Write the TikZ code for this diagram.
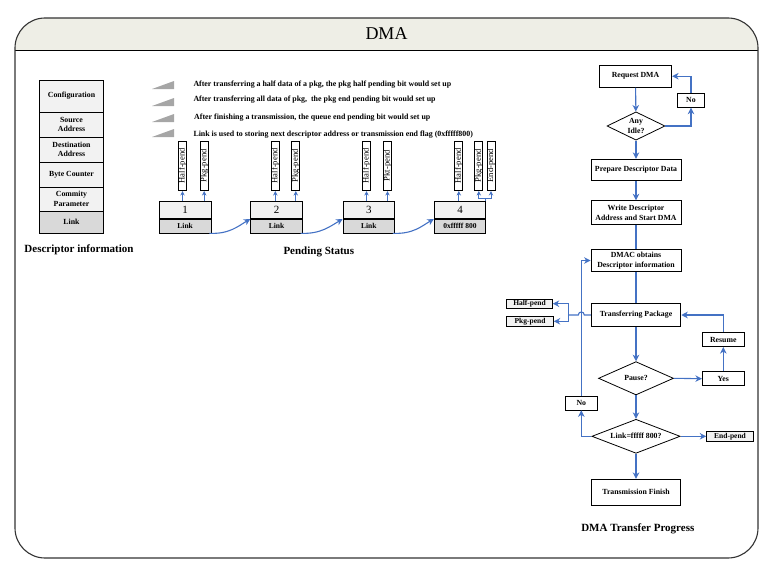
\documentclass[tikz,border=0pt]{standalone}
\usepackage{fontspec}
\setmainfont{Liberation Serif}
\usetikzlibrary{shapes.geometric,arrows.meta}
\definecolor{fblue}{HTML}{4472C4}
\definecolor{lgray}{HTML}{F2F2F2}
\definecolor{mgray}{HTML}{D9D9D9}
\definecolor{bandc}{HTML}{EEEEE6}
\definecolor{wedgec}{HTML}{A6A6A6}
\newcommand\fsz[2]{\fontsize{#1}{#2}\selectfont}
\begin{document}
\begin{tikzpicture}[x=1pt,y=-1pt,
  cell/.style={draw=black, line width=0.8pt, fill=lgray, minimum width=63.5pt, inner sep=0pt, align=center, font=\fsz{7.8}{9.5}\bfseries},
  numbox/.style={draw=black, line width=0.8pt, fill=lgray, minimum width=51.5pt, minimum height=17pt, inner sep=0pt, font=\fsz{11}{12}},
  linkbox/.style={draw=black, line width=0.8pt, fill=mgray, minimum width=51.5pt, minimum height=13.5pt, inner sep=0pt, font=\fsz{7.5}{9}\bfseries},
  tagbox/.style={draw=black, line width=0.8pt, fill=white, minimum width=6.5pt, minimum height=49.7pt, inner sep=0pt, font=\fsz{8.6}{9}},
  legend/.style={anchor=west, inner sep=0pt, font=\fsz{7.9}{9}\bfseries},
  heading/.style={inner sep=0pt, font=\fsz{11}{12}\bfseries},
  fb/.style={draw=black, line width=0.8pt, fill=white, inner sep=1pt, align=center, font=\fsz{7.8}{10}\bfseries},
  dia/.style={fb, shape=diamond, inner sep=0pt},
  pend/.style={fb, fill=lgray, inner sep=0pt, minimum height=9.3pt, font=\fsz{7.5}{9}\bfseries},
  ln/.style={draw=fblue, line width=1.1pt},
  arr/.style={ln, -{Stealth[length=6.5pt,width=6.5pt,inset=2pt]}},
  sarr/.style={draw=fblue, line width=0.9pt, -{Stealth[length=4.5pt,width=4.5pt,inset=1.5pt]}}
]
\useasboundingbox (0,0) rectangle (777,570);
% frame and title band
\begin{scope}
  \clip[rounded corners=30pt] (15,18) rectangle (758,558);
  \fill[bandc] (15,18) rectangle (758,50);
\end{scope}
\draw[black, line width=0.9pt] (15,50) -- (758,50);
\draw[black!80, line width=1.1pt, rounded corners=30pt] (15,18) rectangle (758,558);
\node[inner sep=0pt, font=\fsz{18}{20}] (title) at (386.5,34) {DMA};

% descriptor table
\node[cell, minimum height=32pt] (c1) at (71.5,96) {Configuration};
\node[cell, minimum height=25pt] (c2) at (71.5,124.5) {Source\\Address};
\node[cell, minimum height=25pt] (c3) at (71.5,149.5) {Destination\\Address};
\node[cell, minimum height=25pt] (c4) at (71.5,174.5) {Byte Counter};
\node[cell, minimum height=24pt] (c5) at (71.5,199) {Commity\\Parameter};
\node[cell, minimum height=22pt, fill=mgray] (c6) at (71.5,222) {Link};
\node[heading] (h1) at (79,250) {Descriptor information};

% legend
\fill[wedgec] (152,89) -- (174,89) -- (174,81) -- cycle;
\fill[wedgec] (152,106) -- (174,106) -- (174,98) -- cycle;
\fill[wedgec] (152,122) -- (174,122) -- (174,114) -- cycle;
\fill[wedgec] (152,137) -- (174,137) -- (174,129) -- cycle;
\node[legend] (l1) at (193.3,85) {After transferring a half data of a pkg, the pkg half pending bit would set up};
\node[legend] (l2) at (193.3,100) {After transferring all data of pkg,\ \ the pkg end pending bit would set up};
\node[legend] (l3) at (194,117.5) {After finishing a transmission, the queue end pending bit would set up};
\node[legend] (l4) at (193.3,134.3) {Link is used to storing next descriptor address or transmission end flag (0xfffff800)};

% pending boxes
\node[numbox, anchor=south] (b1t) at (185.2,219) {1};
\node[linkbox, anchor=north] (b1b) at (185.2,219) {Link};
\node[numbox, anchor=south] (b2t) at (276.5,219) {2};
\node[linkbox, anchor=north] (b2b) at (276.5,219) {Link};
\node[numbox, anchor=south] (b3t) at (368.8,219) {3};
\node[linkbox, anchor=north] (b3b) at (368.8,219) {Link};
\node[numbox, anchor=south] (b4t) at (460,219) {4};
\node[linkbox, anchor=north] (b4b) at (460,219) {0xfffff 800};

\node[tagbox] (t1a) at (182.5,165.8) {\rotatebox{90}{Half-pend}};
\node[tagbox] (t1b) at (204.2,165.8) {\rotatebox{90}{Pkg-pend}};
\node[tagbox] (t2a) at (275.3,165.8) {\rotatebox{90}{Half-pend}};
\node[tagbox] (t2b) at (295.8,165.8) {\rotatebox{90}{Pkg-pend}};
\node[tagbox] (t3a) at (366.5,165.8) {\rotatebox{90}{Half-pend}};
\node[tagbox] (t3b) at (387.5,165.8) {\rotatebox{90}{Pkt-pend}};
\node[tagbox] (t4a) at (458.8,165.8) {\rotatebox{90}{Half-pend}};
\node[tagbox] (t4b) at (478.8,165.8) {\rotatebox{90}{Pkg-pend}};
\node[tagbox] (t4c) at (491,165.8) {\rotatebox{90}{End-pend}};

\draw[sarr] (t1a.south |- b1t.north) -- (t1a.south);
\draw[sarr] (t1b.south |- b1t.north) -- (t1b.south);
\draw[sarr] (t2a.south |- b2t.north) -- (t2a.south);
\draw[sarr] (t2b.south |- b2t.north) -- (t2b.south);
\draw[sarr] (t3a.south |- b3t.north) -- (t3a.south);
\draw[sarr] (t3b.south |- b3t.north) -- (t3b.south);
\draw[sarr] (t4a.south |- b4t.north) -- (t4a.south);
\coordinate (j4) at (485.3,198.3);
\draw[draw=fblue, line width=0.9pt] (j4 |- b4t.north) -- (j4);
\draw[sarr] (j4) -| (t4b.south);
\draw[sarr] (j4) -| (t4c.south);

\draw[arr] ([xshift=-2pt]b1b.south east) .. controls +(20,1) and +(-12,7) .. (b2t.south west);
\draw[arr] ([xshift=-2pt]b2b.south east) .. controls +(20,1) and +(-12,7) .. (b3t.south west);
\draw[arr] ([xshift=-2pt]b3b.south east) .. controls +(20,1) and +(-12,7) .. (b4t.south west);
\node[heading] (h2) at (318.8,251.5) {Pending Status};

% flowchart
\node[fb, minimum width=72.4pt, minimum height=22.3pt] (req) at (635.5,76.2) {Request DMA};
\node[fb, minimum width=26.6pt, minimum height=14pt] (no1) at (691,100.3) {No};
\node[dia, aspect=2.05, minimum width=58pt, minimum height=28.3pt] (idle) at (636,126) {Any\\Idle?};
\node[fb, minimum width=90pt, minimum height=21.4pt] (prep) at (636,170) {Prepare Descriptor Data};
\node[fb, minimum width=90pt, minimum height=23.6pt] (write) at (636,212.5) {Write Descriptor\\Address and Start DMA};
\node[fb, minimum width=90pt, minimum height=22.4pt] (dmac) at (636,260.5) {DMAC obtains\\Descriptor information};
\node[fb, minimum width=89.7pt, minimum height=23.4pt] (trans) at (636,315) {Transferring Package};
\node[dia, aspect=2.25, minimum width=75pt, minimum height=33.3pt] (pause) at (636,378.3) {Pause?};
\node[fb, minimum width=42pt, minimum height=14pt] (yes) at (723.3,378.7) {Yes};
\node[fb, minimum width=42pt, minimum height=14.4pt] (resume) at (723.3,339.5) {Resume};
\node[dia, aspect=2.6, minimum width=88.3pt, minimum height=34pt] (link) at (636,436.3) {Link=fffff 800?};
\node[pend, minimum width=46.6pt] (endp) at (730,436.3) {End-pend};
\node[fb, minimum width=32.7pt, minimum height=13.3pt] (no2) at (581.3,403.3) {No};
\node[fb, minimum width=89.7pt, minimum height=25.7pt] (fin) at (636,492.2) {Transmission Finish};
\node[pend, minimum width=45.6pt] (halfp) at (529.5,303.7) {Half-pend};
\node[pend, minimum width=46.6pt] (pkgp) at (530,321.3) {Pkg-pend};
\node[heading] (h3) at (637.8,529) {DMA Transfer Progress};

\draw[arr] (req) -- (idle);
\draw[arr] (idle.east) -| (no1.south);
\draw[arr] (no1.north) |- (req.east);
\draw[arr] (idle) -- (prep);
\draw[arr] (prep) -- (write);
\draw[ln] (write) -- (dmac);
\draw[ln] (dmac) -- (trans);
\draw[arr] (trans) -- (pause);
\draw[arr] (pause.east) -- (yes.west);
\draw[arr] (yes) -- (resume);
\draw[arr] (resume.north) |- (trans.east);
\draw[arr] (pause) -- (link);
\draw[arr] (link.east) -- (endp.west);
\draw[arr] (link) -- (fin);
\draw[arr] (link.west) -| (no2.south);
\draw[arr] (no2.north) |- (dmac.west);
\coordinate (split) at (568.3,315);
\draw[ln] (trans.west) -- (584.3,315) .. controls (584.3,311) and (578.3,311) .. (578.3,315) -- (split);
\draw[arr] (split) |- (halfp.east);
\draw[arr] (split) |- (pkgp.east);
\end{tikzpicture}
\end{document}
